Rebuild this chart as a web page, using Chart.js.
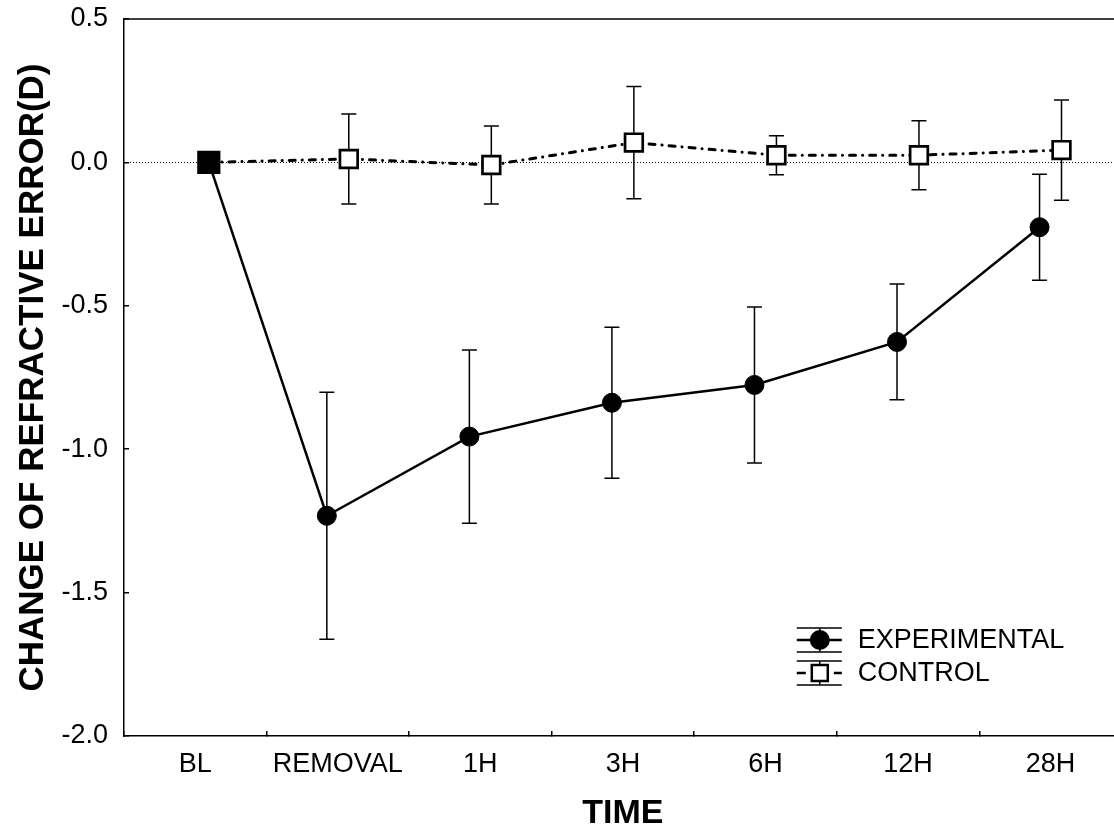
<!DOCTYPE html>
<html>
<head>
<meta charset="utf-8">
<script src="https://cdn.jsdelivr.net/npm/chart.js@4/dist/chart.umd.min.js"></script>
<style>
  html, body { margin: 0; padding: 0; background: #fff; overflow: hidden; }
  canvas { display: block; }
</style>
</head>
<body>
<canvas id="refraction" width="1139" height="828"></canvas>
<script>
const categories = ["BL", "REMOVAL", "1H", "3H", "6H", "12H", "28H"];
const experimentalMean = [0, -1.232, -0.956, -0.838, -0.776, -0.626, -0.226];
const experimentalErr = [0, 0.431, 0.302, 0.263, 0.272, 0.202, 0.185];
const controlMean = [0, 0.012, -0.009, 0.069, 0.025, 0.025, 0.043];
const controlErr = [0, 0.157, 0.136, 0.196, 0.068, 0.120, 0.175];
const yTicks = [0.5, 0.0, -0.5, -1.0, -1.5, -2.0];

const FONT = "'Liberation Sans', Arial, Helvetica, sans-serif";
const dodge = 0.077;      // groups are shifted a little left/right of the category centre
const blShift = 0.095;    // baseline points sit together

function xPos(i, side) {
  return i === 0 ? blShift : i + side * dodge;
}

const errors = [experimentalErr, controlErr];
const means = [experimentalMean, controlMean];

// error bars + zero reference line, under the markers
const errorBars = {
  id: "errorBars",
  beforeDatasetsDraw(chart) {
    const { ctx, chartArea, scales } = chart;
    const y = scales.y;
    ctx.save();
    // dotted zero line
    ctx.strokeStyle = "#000";
    ctx.lineWidth = 1;
    ctx.setLineDash([1, 2]);
    const y0 = Math.round(y.getPixelForValue(0)) + 0.5;
    ctx.beginPath();
    ctx.moveTo(chartArea.left, y0);
    ctx.lineTo(chartArea.right, y0);
    ctx.stroke();
    ctx.setLineDash([]);

    ctx.lineWidth = 1.5;
    chart.data.datasets.forEach((ds, d) => {
      const meta = chart.getDatasetMeta(d);
      meta.data.forEach((pt, i) => {
        const e = errors[d][i];
        if (!e) return;
        const top = y.getPixelForValue(means[d][i] + e);
        const bot = y.getPixelForValue(means[d][i] - e);
        ctx.beginPath();
        ctx.moveTo(pt.x, top);
        ctx.lineTo(pt.x, bot);
        ctx.moveTo(pt.x - 7.5, top);
        ctx.lineTo(pt.x + 7.5, top);
        ctx.moveTo(pt.x - 7.5, bot);
        ctx.lineTo(pt.x + 7.5, bot);
        ctx.stroke();
      });
    });
    ctx.restore();
  },
  afterDraw(chart) {
    const { ctx, chartArea } = chart;
    ctx.save();
    // top / right frame
    ctx.strokeStyle = "#000";
    ctx.lineWidth = 1.5;
    ctx.beginPath();
    ctx.moveTo(chartArea.left, chartArea.top);
    ctx.lineTo(chartArea.right, chartArea.top);
    ctx.lineTo(chartArea.right, chartArea.bottom);
    ctx.stroke();

    // legend
    const lx = chartArea.right - 325;
    const cx = lx + 23;
    const rows = [chartArea.bottom - 96, chartArea.bottom - 63];
    const names = ["EXPERIMENTAL", "CONTROL"];
    rows.forEach((ry, k) => {
      ctx.lineWidth = 1.5;
      ctx.setLineDash([]);
      ctx.beginPath();
      ctx.moveTo(lx, ry - 12); ctx.lineTo(lx + 45, ry - 12);
      ctx.moveTo(lx, ry + 12); ctx.lineTo(lx + 45, ry + 12);
      ctx.moveTo(cx, ry - 12); ctx.lineTo(cx, ry + 12);
      ctx.stroke();
      ctx.lineWidth = 2.5;
      if (k === 0) {
        ctx.beginPath();
        ctx.moveTo(lx, ry); ctx.lineTo(lx + 45, ry);
        ctx.stroke();
        ctx.beginPath();
        ctx.arc(cx, ry, 10, 0, Math.PI * 2);
        ctx.fillStyle = "#000";
        ctx.fill();
      } else {
        ctx.beginPath();
        ctx.moveTo(lx, ry); ctx.lineTo(lx + 9, ry);
        ctx.moveTo(lx + 37, ry); ctx.lineTo(lx + 45, ry);
        ctx.stroke();
        ctx.fillStyle = "#fff";
        ctx.fillRect(cx - 8, ry - 8, 16, 16);
        ctx.strokeRect(cx - 8, ry - 8, 16, 16);
      }
      ctx.fillStyle = "#000";
      ctx.font = "27px " + FONT;
      ctx.textBaseline = "middle";
      ctx.textAlign = "left";
      ctx.fillText(names[k], lx + 61, ry + 1);
    });
    ctx.restore();
  }
};

new Chart(document.getElementById("refraction"), {
  type: "line",
  data: {
    datasets: [
      {
        label: "EXPERIMENTAL",
        data: experimentalMean.map((v, i) => ({ x: xPos(i, -1), y: v })),
        borderColor: "#000",
        borderWidth: 2.5,
        pointStyle: "circle",
        pointRadius: 9.5,
        pointBorderWidth: 1,
        pointBackgroundColor: "#000",
        pointBorderColor: "#000",
        order: 1,
      },
      {
        label: "CONTROL",
        data: controlMean.map((v, i) => ({ x: xPos(i, 1), y: v })),
        borderColor: "#000",
        borderWidth: 3,
        borderDash: [6, 7, 0.1, 7],
        borderCapStyle: "round",
        pointStyle: "rect",
        pointRadius: controlMean.map((v, i) => (i === 0 ? 14.5 : 12.5)),
        pointBorderWidth: 2.7,
        pointBackgroundColor: controlMean.map((v, i) => (i === 0 ? "#000" : "#fff")),
        pointBorderColor: "#000",
        order: 0,
      },
    ],
  },
  options: {
    responsive: false,
    animation: false,
    events: [],
    layout: { padding: { top: 19, right: 0, left: 0, bottom: 0 } },
    plugins: {
      legend: { display: false },
      tooltip: { enabled: false },
    },
    scales: {
      x: {
        type: "linear",
        min: -0.5,
        max: 6.5,
        afterBuildTicks: (s) => { s.ticks = categories.map((c, i) => ({ value: i })); },
        afterFit: (s) => {
          s.height = 92;
          s.paddingLeft = 0;
          s.paddingRight = 0;
        },
        border: { color: "#000", width: 1.5 },
        grid: { offset: true, drawOnChartArea: false, tickLength: -5, color: "#000", lineWidth: 1.5 },
        ticks: {
          padding: 17,
          autoSkip: false,
          maxRotation: 0,
          color: "#000",
          font: { size: 27, family: FONT },
          callback: (v) => categories[v],
        },
        title: {
          display: true,
          text: "TIME",
          color: "#000",
          font: { size: 34, weight: "bold", family: FONT, lineHeight: 0.82 },
          padding: { top: 0, bottom: 0 },
        },
      },
      y: {
        min: -2,
        max: 0.5,
        afterBuildTicks: (s) => { s.ticks = yTicks.map((v) => ({ value: v })); },
        afterFit: (s) => {
          s.width = 124;
          s.paddingTop = 0;
          s.paddingBottom = 0;
        },
        border: { color: "#000", width: 1.5 },
        grid: { drawOnChartArea: false, tickLength: -5, color: "#000", lineWidth: 1.5 },
        ticks: {
          padding: 21,
          color: "#000",
          font: { size: 27, family: FONT },
          callback: (v) => v.toFixed(1),
        },
        title: {
          display: true,
          text: "CHANGE OF REFRACTIVE ERROR(D)",
          color: "#000",
          font: { size: 35, weight: "bold", family: FONT, lineHeight: 1 },
          padding: { top: 16, bottom: 0 },
        },
      },
    },
  },
  plugins: [errorBars],
});
</script>
</body>
</html>
